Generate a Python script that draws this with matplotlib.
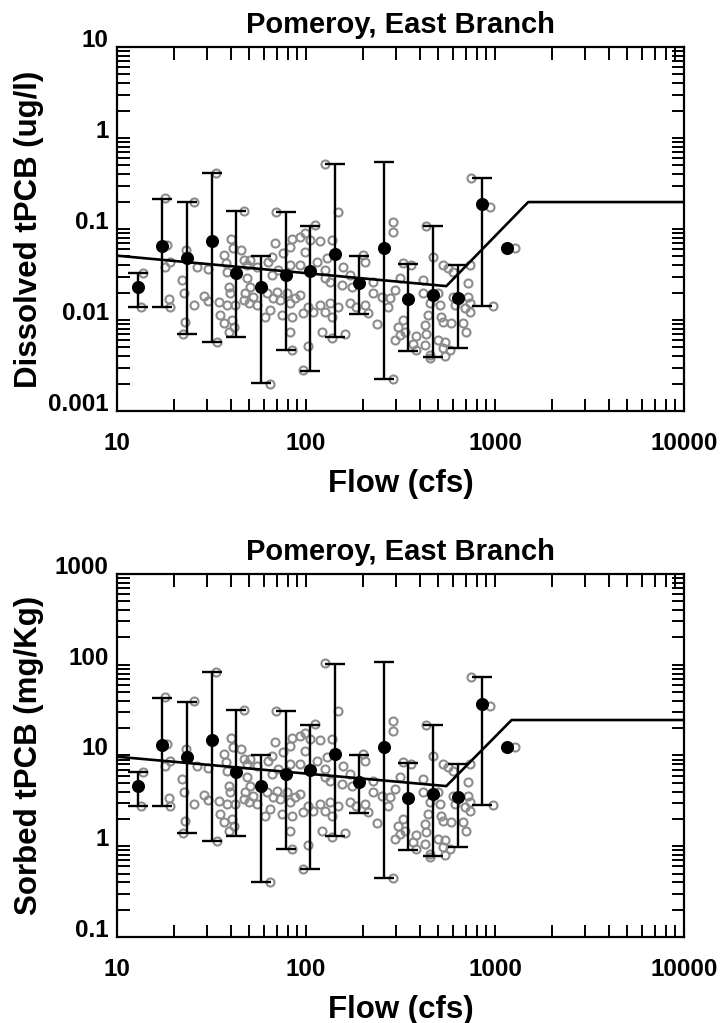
import numpy as np
import matplotlib
matplotlib.use('Agg')
import matplotlib.pyplot as plt
from matplotlib.ticker import FixedLocator, FixedFormatter, LogLocator, NullFormatter

plt.rcParams['font.family'] = ['Liberation Sans', 'DejaVu Sans']
plt.rcParams['font.weight'] = 'bold'

# 標題與軸標籤
title = 'Pomeroy, East Branch'
x_label = 'Flow (cfs)'
y_label_diss = 'Dissolved tPCB (ug/l)'
y_label_sorb = 'Sorbed tPCB (mg/Kg)'

x_ticks = [10, 100, 1000, 10000]
x_tick_labels = ['10', '100', '1000', '10000']
y_ticks_diss = [0.001, 0.01, 0.1, 1, 10]
y_tick_labels_diss = ['0.001', '0.01', '0.1', '1', '10']
y_ticks_sorb = [0.1, 1, 10, 100, 1000]
y_tick_labels_sorb = ['0.1', '1', '10', '100', '1000']

# 個別樣本 (灰色空心圓)
flow_samples = [
    18.0, 25.5, 33.5, 47.0, 13.8, 13.4, 18.5, 18.0, 19.1, 18.8,
    19.1, 23.2, 23.5, 22.1, 22.5, 26.5, 25.6, 22.8, 22.4, 30.2,
    28.8, 30.2, 33.8, 40.1, 41.1, 45.5, 37.0, 37.8, 46.8, 48.7,
    38.2, 48.7, 39.0, 39.8, 47.7, 34.5, 38.2, 42.3, 46.8, 49.8,
    35.2, 36.7, 40.6, 39.0, 41.5, 126, 69.2, 148, 112, 64.5,
    84.0, 96.8, 82.3, 103, 121, 161, 137, 237, 68.5, 75.8,
    84.0, 93.0, 98.8, 105, 119, 137, 98.8, 82.3, 50.5, 54.8,
    63.2, 65.8, 65.8, 71.4, 82.3, 93.0, 114, 129, 126, 157,
    171, 201, 205, 227, 50.5, 52.6, 54.8, 61.9, 67.1, 70.0,
    72.8, 79.0, 82.3, 87.5, 93.0, 64.5, 60.7, 74.4, 84.0, 96.8,
    103, 109, 119, 126, 134, 137, 148, 155, 134, 126,
    171, 175, 185, 205, 214, 227, 252, 289, 289, 433,
    749, 937, 976, 1271, 289, 470, 326, 361, 531, 564,
    600, 735, 313, 295, 277, 272, 416, 416, 720, 499,
    510, 451, 720, 735, 691, 735, 600, 612, 442, 520,
    531, 587, 677, 705, 326, 307, 333, 295, 313, 425,
    433, 383, 425, 383, 451, 499, 542, 531, 542, 576,
    368, 451,
]
diss_samples = [
    0.221, 0.200, 0.416, 0.158, 0.0326, 0.0138, 0.0667, 0.0385, 0.0437, 0.0170,
    0.0140, 0.0588, 0.0505, 0.0275, 0.0197, 0.0385, 0.0146, 0.0096, 0.0070, 0.0361,
    0.0185, 0.0163, 0.0057, 0.0771, 0.0623, 0.0588, 0.0518, 0.0420, 0.0456, 0.0402,
    0.0340, 0.0287, 0.0232, 0.0197, 0.0197, 0.0159, 0.0146, 0.0146, 0.0166, 0.0153,
    0.0113, 0.0092, 0.0100, 0.0073, 0.0084, 0.518, 0.155, 0.153, 0.111, 0.0020,
    0.0047, 0.0028, 0.0073, 0.0052, 0.0074, 0.0070, 0.0063, 0.0090, 0.0707, 0.0549,
    0.0771, 0.0811, 0.0897, 0.0757, 0.0744, 0.0757, 0.0563, 0.0639, 0.0456, 0.0385,
    0.0437, 0.0497, 0.0312, 0.0354, 0.0402, 0.0402, 0.0437, 0.0477, 0.0354, 0.0380,
    0.0312, 0.0518, 0.0437, 0.0264, 0.0232, 0.0180, 0.0146, 0.0197, 0.0173, 0.0205,
    0.0166, 0.0197, 0.0153, 0.0173, 0.0188, 0.0129, 0.0109, 0.0113, 0.0109, 0.0119,
    0.0140, 0.0123, 0.0146, 0.0123, 0.0153, 0.0109, 0.0140, 0.0243, 0.0264, 0.0287,
    0.0153, 0.0232, 0.0140, 0.0146, 0.0119, 0.0197, 0.0180, 0.120, 0.0934, 0.108,
    0.366, 0.176, 0.0144, 0.0623, 0.00225, 0.0497, 0.0420, 0.0402, 0.0402, 0.0370,
    0.0340, 0.0402, 0.0287, 0.0214, 0.0173, 0.0140, 0.0275, 0.0197, 0.0253, 0.0197,
    0.0146, 0.0153, 0.0180, 0.0153, 0.0134, 0.0123, 0.0180, 0.0146, 0.0113, 0.0109,
    0.0096, 0.0092, 0.0092, 0.0074, 0.0100, 0.0084, 0.0074, 0.0060, 0.0068, 0.0088,
    0.0071, 0.0066, 0.0053, 0.0047, 0.0041, 0.0060, 0.0058, 0.0049, 0.0040, 0.0047,
    0.0055, 0.0038,
]
sorb_samples = [
    44.2, 40.0, 83.2, 31.6, 6.52, 2.76, 13.3, 7.70, 8.74, 3.40,
    2.80, 11.8, 10.1, 5.50, 3.94, 7.70, 2.92, 1.92, 1.40, 7.22,
    3.70, 3.26, 1.14, 15.4, 12.5, 11.8, 10.4, 8.40, 9.12, 8.04,
    6.80, 5.74, 4.64, 3.94, 3.94, 3.18, 2.92, 2.92, 3.32, 3.06,
    2.26, 1.84, 2.00, 1.46, 1.68, 104, 31.0, 30.6, 22.2, 0.40,
    0.94, 0.56, 1.46, 1.04, 1.48, 1.40, 1.26, 1.80, 14.1, 11.0,
    15.4, 16.2, 17.9, 15.1, 14.9, 15.1, 11.3, 12.8, 9.12, 7.70,
    8.74, 9.94, 6.24, 7.08, 8.04, 8.04, 8.74, 9.54, 7.08, 7.60,
    6.24, 10.4, 8.74, 5.28, 4.64, 3.60, 2.92, 3.94, 3.46, 4.10,
    3.32, 3.94, 3.06, 3.46, 3.76, 2.58, 2.18, 2.26, 2.18, 2.38,
    2.80, 2.46, 2.92, 2.46, 3.06, 2.18, 2.80, 4.86, 5.28, 5.74,
    3.06, 4.64, 2.80, 2.92, 2.38, 3.94, 3.60, 24.0, 18.7, 21.6,
    73.2, 35.2, 2.88, 12.5, 0.45, 9.94, 8.40, 8.04, 8.04, 7.40,
    6.80, 8.04, 5.74, 4.28, 3.46, 2.80, 5.50, 3.94, 5.06, 3.94,
    2.92, 3.06, 3.60, 3.06, 2.68, 2.46, 3.60, 2.92, 2.26, 2.18,
    1.92, 1.84, 1.84, 1.48, 2.00, 1.68, 1.48, 1.20, 1.36, 1.76,
    1.42, 1.32, 1.06, 0.94, 0.82, 1.20, 1.16, 0.98, 0.80, 0.94,
    1.10, 0.76,
]

# 分組平均值與範圍 (黑色實心圓 + 誤差線)
flow_mean = [13.0, 17.4, 23.6, 31.9, 42.6, 57.8, 78.1, 105, 143, 191, 259, 348, 468, 635, 857, 1153]
diss_mean = [0.0232, 0.0650, 0.0476, 0.0743, 0.0331, 0.0232, 0.0310, 0.0348,
             0.0527, 0.0257, 0.0623, 0.0169, 0.0188, 0.0173, 0.187, 0.0623]
diss_hi = [0.0326, 0.214, 0.196, 0.416, 0.158, 0.0509, 0.153, 0.109,
           0.514, 0.0509, 0.541, 0.0409, 0.108, 0.0402, 0.366, np.nan]
diss_lo = [0.0140, 0.0138, 0.00702, 0.00569, 0.00646, 0.00201, 0.00468, 0.00277,
           0.00655, 0.01164, 0.00225, 0.00456, 0.00395, 0.00489, 0.01426, np.nan]
sorb_mean = [4.64, 13.0, 9.52, 14.9, 6.62, 4.64, 6.20, 6.96,
             10.5, 5.14, 12.5, 3.38, 3.76, 3.46, 37.4, 12.5]
sorb_hi = [6.52, 42.8, 39.2, 83.2, 31.6, 10.2, 30.6, 21.8,
           103, 10.2, 108, 8.18, 21.6, 8.04, 73.2, np.nan]
sorb_lo = [2.80, 2.76, 1.40, 1.14, 1.29, 0.402, 0.936, 0.554,
           1.31, 2.33, 0.450, 0.912, 0.790, 0.978, 2.85, np.nan]

# 分段迴歸線
diss_line_flow = [10, 553, 1500, 10000]
diss_line = [0.051, 0.0236, 0.198, 0.198]
sorb_line_flow = [10, 553, 1225, 10000]
sorb_line = [9.7, 4.6, 24.6, 24.6]

fig = plt.figure(figsize=(7.22, 10.23), dpi=100)
ax1 = fig.add_axes([0.162, 0.5982, 0.7853, 0.3558])
ax2 = fig.add_axes([0.162, 0.0841, 0.7853, 0.3548])

panels = [
    (ax1, diss_samples, diss_mean, diss_lo, diss_hi, diss_line_flow, diss_line,
     y_label_diss, y_ticks_diss, y_tick_labels_diss),
    (ax2, sorb_samples, sorb_mean, sorb_lo, sorb_hi, sorb_line_flow, sorb_line,
     y_label_sorb, y_ticks_sorb, y_tick_labels_sorb),
]

for ax, samples, mean, lo, hi, lflow, lval, ylab, yticks, ylabels in panels:
    ax.set_xscale('log')
    ax.set_yscale('log')

    ax.plot(flow_samples, samples, 'o', mfc='none', mec='#8c8c8c', ms=5.8, mew=1.5, zorder=2)
    ax.plot(lflow, lval, '-', color='black', lw=1.9, zorder=3)

    m = ~np.isnan(np.array(hi))
    fm = np.array(flow_mean)[m]
    mm = np.array(mean)[m]
    yerr = [mm - np.array(lo)[m], np.array(hi)[m] - mm]
    ax.errorbar(fm, mm, yerr=yerr, fmt='none', ecolor='black', elinewidth=1.7,
                capsize=7.5, capthick=1.7, zorder=4)
    ax.plot(flow_mean, mean, 'o', color='black', ms=8.4, zorder=5)

    ax.set_xlim(10, 10000)
    ax.set_ylim(yticks[0], yticks[-1])

    ax.xaxis.set_major_locator(FixedLocator(x_ticks))
    ax.xaxis.set_major_formatter(FixedFormatter(x_tick_labels))
    ax.yaxis.set_major_locator(FixedLocator(yticks))
    ax.yaxis.set_major_formatter(FixedFormatter(ylabels))
    ax.xaxis.set_minor_locator(LogLocator(base=10, subs=np.arange(2, 10)))
    ax.yaxis.set_minor_locator(LogLocator(base=10, subs=np.arange(2, 10), numticks=20))
    ax.xaxis.set_minor_formatter(NullFormatter())
    ax.yaxis.set_minor_formatter(NullFormatter())

    ax.tick_params(which='both', direction='in', top=True, right=True, length=9, width=1.4)
    ax.tick_params(axis='x', which='major', labelsize=17.5, pad=15)
    ax.tick_params(axis='y', which='major', labelsize=17.5, pad=6)
    for lab in ax.get_yticklabels():
        lab.set_verticalalignment('baseline')
    for sp in ax.spines.values():
        sp.set_linewidth(1.6)

    ax.set_title(title, fontsize=21, fontweight='bold', pad=10)
    ax.set_xlabel(x_label, fontsize=22.5, fontweight='bold')
    ax.xaxis.set_label_coords(0.5, -0.16)
    ax.xaxis.label.set_verticalalignment('top')
    ax.set_ylabel(ylab, fontsize=22.5, fontweight='bold')
    ax.yaxis.set_label_coords(-0.128, 0.5)

fig.savefig('out.png', dpi=100)
